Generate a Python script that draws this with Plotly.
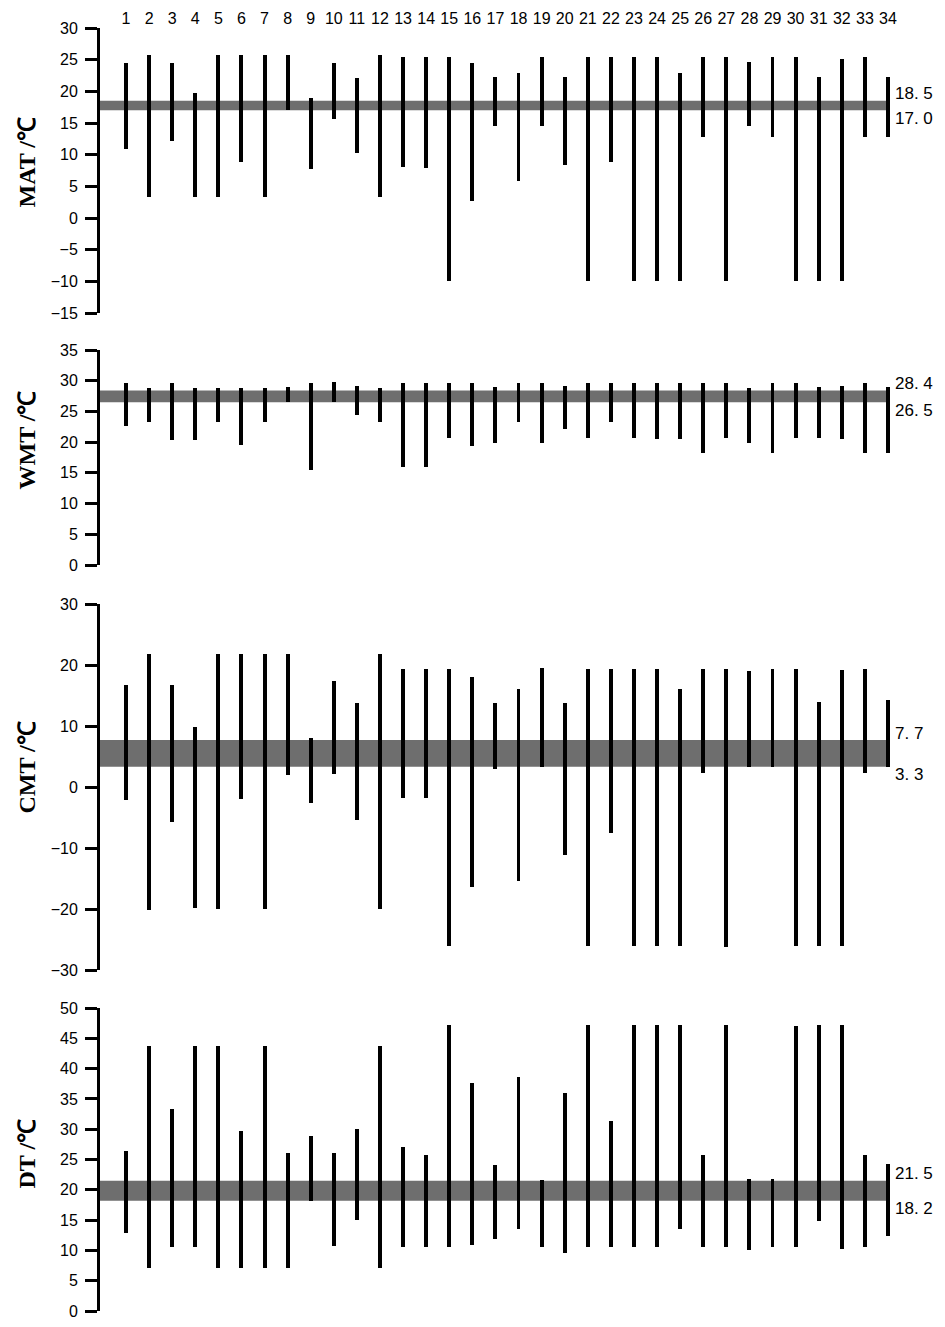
import plotly.graph_objects as go

# ---------------- data ----------------
taxa = list(range(1, 35))
taxa_labels = [str(t) for t in taxa]

mat_hi = [24.4, 25.8, 24.4, 19.7, 25.8, 25.8, 25.8, 25.8, 18.9, 24.4, 22.1, 25.8, 25.5, 25.4, 25.4, 24.4, 22.3,
          22.9, 25.5, 22.3, 25.5, 25.4, 25.4, 25.4, 22.9, 25.4, 25.5, 24.6, 25.5, 25.4, 22.3, 25.1, 25.5, 22.3]
mat_lo = [10.9, 3.3, 12.1, 3.3, 3.3, 8.8, 3.3, 17.0, 7.8, 15.6, 10.3, 3.3, 8.1, 7.9, -10.0, 2.7, 14.6,
          5.8, 14.6, 8.4, -10.0, 8.8, -10.0, -10.0, -10.0, 12.8, -10.0, 14.6, 12.8, -10.0, -10.0, -10.0, 12.8, 12.8]

wmt_hi = [29.7, 28.8, 29.7, 28.8, 28.8, 28.8, 28.8, 28.9, 29.7, 29.8, 29.1, 28.8, 29.7, 29.7, 29.7, 29.7, 28.9,
          29.7, 29.7, 29.1, 29.7, 29.7, 29.7, 29.7, 29.7, 29.7, 29.7, 28.8, 29.7, 29.7, 28.9, 29.1, 29.7, 28.9]
wmt_lo = [22.7, 23.3, 20.3, 20.3, 23.3, 19.6, 23.3, 26.6, 15.5, 26.6, 24.4, 23.3, 16.0, 16.0, 20.6, 19.4, 19.8,
          23.2, 19.8, 22.2, 20.6, 23.3, 20.6, 20.5, 20.5, 18.3, 20.6, 19.8, 18.3, 20.6, 20.6, 20.5, 18.3, 18.3]

cmt_hi = [16.8, 21.8, 16.8, 9.8, 21.8, 21.8, 21.8, 21.8, 8.0, 17.4, 13.8, 21.8, 19.3, 19.3, 19.3, 18.0, 13.8,
          16.1, 19.5, 13.8, 19.3, 19.3, 19.3, 19.3, 16.1, 19.3, 19.3, 19.0, 19.3, 19.3, 14.0, 19.1, 19.3, 14.2]
cmt_lo = [-2.1, -20.1, -5.7, -19.9, -20.0, -1.9, -20.0, 2.0, -2.7, 2.2, -5.4, -20.0, -1.8, -1.8, -26.1, -16.4, 3.0,
          -15.4, 3.2, -11.1, -26.1, -7.5, -26.1, -26.1, -26.1, 2.3, -26.2, 3.2, 3.2, -26.1, -26.1, -26.1, 2.3, 3.2]

dt_hi = [26.4, 43.7, 33.4, 43.7, 43.7, 29.7, 43.7, 26.1, 28.8, 26.1, 30.0, 43.7, 27.0, 25.7, 47.2, 37.6, 24.1,
         38.6, 21.7, 35.9, 47.2, 31.4, 47.2, 47.2, 47.2, 25.7, 47.2, 21.8, 21.8, 47.0, 47.2, 47.2, 25.7, 24.2]
dt_lo = [12.8, 7.1, 10.5, 10.5, 7.1, 7.1, 7.1, 7.1, 18.2, 10.7, 15.0, 7.1, 10.5, 10.5, 10.5, 10.9, 11.8,
         13.6, 10.5, 9.6, 10.6, 10.5, 10.5, 10.5, 13.6, 10.5, 10.5, 10.0, 10.5, 10.5, 14.9, 10.3, 10.5, 12.3]

panel_names = ["MAT", "WMT", "CMT", "DT"]
band_lo = [17.0, 26.5, 3.3, 18.2]
band_hi = [18.5, 28.4, 7.7, 21.5]
y_min = [-15, 0, -30, 0]
y_max = [30, 35, 30, 50]
y_step = [5, 5, 10, 5]

highs = [mat_hi, wmt_hi, cmt_hi, dt_hi]
lows = [mat_lo, wmt_lo, cmt_lo, dt_lo]

# ---------------- layout geometry ----------------
PAGE_W, PAGE_H = 945, 1327
BODY = 8                               # default browser body margin
W, H = PAGE_W - 2 * BODY, PAGE_H - 2 * BODY
PX_LEFT, PX_RIGHT = 100 - BODY, 905 - BODY      # x pixel extent of plot area (figure coords)
PX_FIRST, PX_STEP = 126 - BODY, 23.09           # pixel of taxon 1 and spacing
X_LO = 1 + (PX_LEFT - PX_FIRST) / PX_STEP
X_HI = 1 + (PX_RIGHT - PX_FIRST) / PX_STEP
panel_px = [(28, 313), (350, 565), (604, 970), (1008, 1311)]
title_px = [163, 440, 768, 1154]

GRAY = "#6e6e6e"
font_tick = dict(family="Liberation Sans, Arial, sans-serif", size=16, color="black")

fig = go.Figure()
layout = dict(
    width=W, height=H,
    margin=dict(l=0, r=0, t=0, b=0),
    paper_bgcolor="white", plot_bgcolor="white",
    showlegend=False, bargap=0,
    shapes=[], annotations=[],
)

for i in range(4):
    n = "" if i == 0 else str(i + 1)
    xa, ya = "x" + n, "y" + n
    top, bot = panel_px[i][0] - BODY, panel_px[i][1] - BODY
    hi, lo = highs[i], lows[i]
    fig.add_trace(go.Bar(
        x=taxa, y=[h - l for h, l in zip(hi, lo)], base=lo,
        width=0.17, marker=dict(color="black", line=dict(width=0)),
        xaxis=xa, yaxis=ya, hoverinfo="skip",
    ))
    layout["xaxis" + n] = dict(
        domain=[PX_LEFT / W, PX_RIGHT / W], range=[X_LO, X_HI], anchor=ya,
        showgrid=False, zeroline=False, showline=False, ticks="",
        showticklabels=(i == 0), side="top",
        tickmode="array", tickvals=taxa, ticktext=taxa_labels,
        tickfont=font_tick, automargin=False, ticklabeloverflow="allow",
    )
    layout["yaxis" + n] = dict(
        domain=[1 - bot / H, 1 - top / H], range=[y_min[i], y_max[i]], anchor=xa,
        showgrid=False, zeroline=False, showline=True, linecolor="black", linewidth=3,
        ticks="outside", ticklen=12, tickwidth=3, tickcolor="black",
        tick0=y_min[i], dtick=y_step[i], tickfont=font_tick, ticklabelstandoff=4,
        automargin=False, ticklabeloverflow="allow",
    )
    layout["shapes"].append(dict(
        type="rect", xref=xa, yref=ya, x0=X_LO, x1=taxa[-1],
        y0=band_lo[i], y1=band_hi[i], fillcolor=GRAY, line=dict(width=0), layer="below",
    ))
    lab_font = dict(family="Liberation Sans, Arial, sans-serif", size=17, color="black")
    layout["annotations"].append(dict(
        x=taxa[-1], y=band_hi[i], xref=xa, yref=ya, xanchor="left", yanchor="middle",
        xshift=5, yshift=7, showarrow=False,
        text=f"{band_hi[i]:.1f}".replace(".", ". "), font=lab_font,
    ))
    layout["annotations"].append(dict(
        x=taxa[-1], y=band_lo[i], xref=xa, yref=ya, xanchor="left", yanchor="middle",
        xshift=5, yshift=-8, showarrow=False,
        text=f"{band_lo[i]:.1f}".replace(".", ". "), font=lab_font,
    ))
    layout["annotations"].append(dict(
        x=(26.5 - BODY) / W, y=1 - (title_px[i] - BODY) / H, xref="paper", yref="paper",
        xanchor="center", yanchor="middle", textangle=-90, showarrow=False,
        text=f"<b>{panel_names[i]} /℃</b>",
        font=dict(family="Liberation Serif, Times New Roman, serif", size=24, color="black"),
    ))

fig.update_layout(**layout)
fig.write_html("out.html")
